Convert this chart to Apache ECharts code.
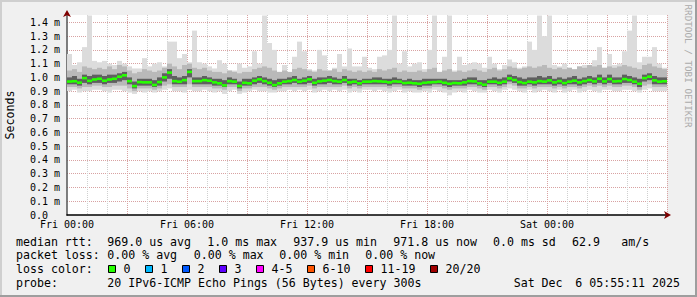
<!DOCTYPE html>
<html><head><meta charset="utf-8">
<script src="https://cdn.jsdelivr.net/npm/echarts@6/dist/echarts.min.js"></script>
<style>html,body{margin:0;padding:0;background:#f0f0f0}#c{width:697px;height:297px}</style>
</head><body><div id="c"></div>
<script>
// ---- time axis (hours since Fri 00:00), one value every 15 minutes ----
const STEP_HOURS = 0.25;
const xTickHours = [0, 6, 12, 18, 24];
const xTickLabels = ['Fri 00:00', 'Fri 06:00', 'Fri 12:00', 'Fri 18:00', 'Sat 00:00'];
const yTickLabels = ['0.0', '0.1 m', '0.2 m', '0.3 m', '0.4 m', '0.5 m', '0.6 m', '0.7 m',
                     '0.8 m', '0.9 m', '1.0 m', '1.1 m', '1.2 m', '1.3 m', '1.4 m'];

// ---- RTT in milliseconds ----
const median = [
 0.970,0.972,0.962,0.995,0.975,0.985,0.990,0.976,0.985,0.990,
 1.005,1.015,0.973,0.937,0.966,0.964,0.964,0.945,0.966,1.000,
 1.035,0.973,0.969,0.980,1.040,0.973,0.973,0.980,0.976,0.964,
 0.957,0.942,0.973,0.969,0.938,0.961,0.957,0.976,0.986,0.973,
 0.961,0.944,0.957,0.969,0.973,0.981,0.969,0.976,0.986,0.961,
 0.971,0.976,0.981,0.973,0.969,0.981,0.964,0.969,0.957,0.969,
 0.969,0.973,0.971,0.969,0.964,0.971,0.969,0.959,0.961,0.957,
 0.954,0.961,0.964,0.966,0.969,0.961,0.954,0.959,0.957,0.964,
 0.973,0.971,0.957,0.947,0.969,0.969,0.961,0.969,0.993,0.981,
 0.966,0.959,0.969,0.964,0.973,0.969,0.978,0.964,0.973,0.959,
 0.969,0.976,0.964,0.973,0.981,0.971,0.990,0.971,0.988,0.971,
 0.973,0.988,0.981,0.969,0.954,0.995,1.005,0.978,0.969,0.972];
const pMax = [
 1.17,1.09,1.11,1.22,1.45,1.12,1.11,1.12,1.10,1.09,
 1.12,1.10,1.08,1.065,1.065,1.14,1.08,1.10,1.11,1.08,
 1.26,1.26,1.14,1.17,1.11,1.34,1.11,1.10,1.08,1.065,
 1.125,1.10,1.05,1.05,1.10,1.07,1.08,1.19,1.10,1.45,
 1.25,1.20,1.04,1.09,1.03,1.15,1.26,1.19,1.06,1.05,
 1.20,1.16,1.05,1.07,1.17,1.08,1.21,1.08,1.08,1.15,
 1.07,1.06,1.15,1.16,1.20,1.45,1.10,1.19,1.08,1.10,
 1.11,1.06,1.20,1.45,1.04,1.15,1.45,1.05,1.15,1.09,
 1.10,1.11,1.10,1.07,1.15,1.10,1.06,1.09,1.13,1.11,
 1.07,1.08,1.26,1.20,1.45,1.30,1.45,1.09,1.08,1.10,
 1.07,1.04,1.08,1.09,1.06,1.125,1.22,1.07,1.17,1.09,
 1.10,1.19,1.34,1.45,1.11,1.15,1.15,1.22,1.10,1.07];
const pHigh = [
 1.05,1.06,1.04,1.08,1.07,1.06,1.07,1.06,1.08,1.06,
 1.09,1.08,1.05,1.03,1.04,1.06,1.05,1.04,1.05,1.07,
 1.10,1.08,1.06,1.09,1.10,1.07,1.06,1.07,1.05,1.04,
 1.04,1.03,1.05,1.04,1.03,1.04,1.04,1.06,1.07,1.08,
 1.07,1.05,1.04,1.05,1.04,1.06,1.07,1.06,1.05,1.04,
 1.06,1.05,1.05,1.06,1.04,1.06,1.05,1.04,1.05,1.04,
 1.05,1.04,1.06,1.05,1.06,1.07,1.04,1.05,1.04,1.04,
 1.05,1.04,1.06,1.07,1.04,1.05,1.06,1.04,1.05,1.04,
 1.05,1.06,1.05,1.04,1.06,1.07,1.05,1.06,1.08,1.07,
 1.06,1.07,1.08,1.07,1.08,1.09,1.07,1.06,1.07,1.06,
 1.07,1.06,1.08,1.07,1.09,1.08,1.09,1.07,1.08,1.07,
 1.08,1.09,1.08,1.07,1.06,1.09,1.10,1.08,1.07,1.06];
const pInHigh = [
 1.00,1.01,0.99,1.02,1.01,1.02,1.02,1.01,1.02,1.02,
 1.03,1.04,1.00,0.97,0.99,0.99,0.99,0.98,1.00,1.03,
 1.06,1.01,1.00,1.01,1.06,1.00,1.00,1.01,1.00,0.99,
 0.99,0.98,1.00,0.99,0.97,0.99,0.99,1.00,1.01,1.00,
 0.99,0.98,0.99,0.99,1.00,1.01,0.99,1.00,1.01,0.99,
 1.00,1.00,1.01,1.00,0.99,1.01,0.99,0.99,0.98,0.99,
 0.99,1.00,1.00,0.99,0.99,1.00,0.99,0.98,0.99,0.98,
 0.98,0.99,0.99,0.99,0.99,0.99,0.98,0.98,0.98,0.99,
 1.00,1.00,0.98,0.98,0.99,1.00,0.99,1.00,1.02,1.01,
 1.00,0.99,1.00,1.00,1.01,1.00,1.01,0.99,1.00,0.99,
 1.00,1.01,0.99,1.00,1.01,1.00,1.02,1.00,1.02,1.00,
 1.00,1.02,1.01,1.00,0.99,1.02,1.03,1.01,1.00,1.00];
const pInLow = [
 0.95,0.95,0.94,0.96,0.95,0.96,0.96,0.95,0.96,0.96,
 0.97,0.98,0.95,0.92,0.94,0.94,0.94,0.93,0.94,0.97,
 0.99,0.95,0.95,0.95,1.00,0.95,0.95,0.95,0.95,0.94,
 0.94,0.93,0.95,0.95,0.92,0.94,0.94,0.95,0.96,0.95,
 0.94,0.93,0.94,0.95,0.95,0.96,0.95,0.95,0.96,0.94,
 0.95,0.95,0.96,0.95,0.95,0.96,0.94,0.95,0.94,0.95,
 0.95,0.95,0.95,0.95,0.94,0.95,0.95,0.94,0.94,0.94,
 0.93,0.94,0.94,0.95,0.95,0.94,0.93,0.94,0.94,0.94,
 0.95,0.95,0.94,0.93,0.95,0.95,0.94,0.95,0.97,0.96,
 0.94,0.94,0.95,0.94,0.95,0.95,0.95,0.94,0.95,0.94,
 0.95,0.95,0.94,0.95,0.96,0.95,0.96,0.95,0.96,0.95,
 0.95,0.96,0.96,0.95,0.93,0.97,0.98,0.95,0.95,0.95];
const pLow = [
 0.93,0.93,0.92,0.93,0.93,0.94,0.94,0.93,0.93,0.94,
 0.94,0.94,0.92,0.90,0.92,0.92,0.92,0.91,0.92,0.94,
 0.95,0.93,0.93,0.93,0.95,0.93,0.93,0.93,0.93,0.92,
 0.92,0.91,0.93,0.93,0.90,0.92,0.92,0.93,0.93,0.93,
 0.92,0.91,0.92,0.93,0.93,0.93,0.93,0.93,0.94,0.92,
 0.93,0.93,0.93,0.93,0.93,0.94,0.92,0.93,0.92,0.93,
 0.93,0.93,0.93,0.93,0.92,0.93,0.93,0.92,0.92,0.92,
 0.91,0.92,0.92,0.93,0.93,0.92,0.91,0.92,0.92,0.92,
 0.93,0.93,0.92,0.91,0.93,0.93,0.92,0.93,0.95,0.94,
 0.92,0.92,0.93,0.92,0.93,0.93,0.93,0.92,0.93,0.92,
 0.93,0.93,0.92,0.93,0.94,0.93,0.94,0.93,0.94,0.93,
 0.93,0.94,0.94,0.93,0.91,0.94,0.95,0.93,0.93,0.93];
const pMin = [
 0.90,0.91,0.89,0.90,0.90,0.91,0.91,0.90,0.89,0.91,
 0.91,0.90,0.89,0.88,0.90,0.89,0.90,0.89,0.90,0.91,
 0.92,0.90,0.90,0.89,0.91,0.90,0.90,0.91,0.90,0.89,
 0.90,0.88,0.90,0.91,0.88,0.89,0.90,0.91,0.90,0.90,
 0.89,0.89,0.90,0.90,0.91,0.90,0.91,0.90,0.91,0.89,
 0.90,0.91,0.90,0.91,0.90,0.91,0.89,0.90,0.89,0.91,
 0.91,0.90,0.91,0.90,0.89,0.90,0.91,0.89,0.90,0.89,
 0.89,0.90,0.89,0.91,0.90,0.89,0.87,0.89,0.90,0.89,
 0.91,0.90,0.89,0.89,0.91,0.90,0.89,0.91,0.92,0.91,
 0.90,0.89,0.91,0.89,0.90,0.91,0.90,0.89,0.91,0.89,
 0.90,0.91,0.89,0.90,0.91,0.90,0.89,0.91,0.91,0.90,
 0.90,0.91,0.91,0.90,0.89,0.91,0.92,0.90,0.90,0.90];

// ---- legend ----
const lossLabels = ['0', '1', '2', '3', '4-5', '6-10', '11-19', '20/20'];
const lossColors = ['#26ff00', '#00b8ff', '#0059ff', '#5e00ff', '#ff00ff', '#ff5500', '#ff0000', '#a00000'];
const rttStats = ['969.0 us avg', '1.0 ms max', '937.9 us min', '971.8 us now', '0.0 ms sd', '62.9', 'am/s'];
const lossStats = ['0.00 % avg', '0.00 % max', '0.00 % min', '0.00 % now'];
const probeText = '20 IPv6-ICMP Echo Pings (56 Bytes) every 300s';
const dateText = ['Sat Dec', '6 05:55:11 2025'];

const MONO = '"DejaVu Sans Mono", monospace';
const LFONT = '11.6px ' + MONO;

const data = median.map((m, i) => [i * STEP_HOURS, pMin[i], pLow[i], pInLow[i], m, pInHigh[i], pHigh[i], pMax[i]]);

function renderItem(params, api) {
  const h = api.value(0);
  const w = api.size([STEP_HOURS, 0])[0];
  const x = api.coord([h, 0])[0];
  function band(lo, hi, color) {
    const a = api.coord([h, api.value(lo)])[1];
    const b = api.coord([h, api.value(hi)])[1];
    return { type: 'rect', shape: { x: x, y: b, width: w, height: a - b }, style: { fill: color } };
  }
  const my = api.coord([h, api.value(4)])[1];
  return {
    type: 'group',
    children: [
      band(1, 7, '#dcdcdc'),
      band(2, 6, '#b9b9b9'),
      band(3, 5, '#5f5f5f'),
      { type: 'rect', shape: { x: x, y: my - 1.3, width: w, height: 2.6 }, style: { fill: lossColors[0] } }
    ]
  };
}

const graphics = [];
function txt(x, y, s, align) {
  graphics.push({ type: 'text', x: x, y: y, style: { text: s, font: LFONT, fill: '#000', align: align || 'left', verticalAlign: 'middle' } });
}
// frame
graphics.push({ type: 'rect', shape: { x: 0, y: 0, width: 697, height: 2 }, style: { fill: '#cfcfcf' } });
graphics.push({ type: 'rect', shape: { x: 0, y: 0, width: 2, height: 297 }, style: { fill: '#cfcfcf' } });
graphics.push({ type: 'rect', shape: { x: 695, y: 0, width: 2, height: 297 }, style: { fill: '#9e9e9e' } });
graphics.push({ type: 'rect', shape: { x: 0, y: 295, width: 697, height: 2 }, style: { fill: '#9e9e9e' } });
// watermark
graphics.push({ type: 'text', x: 688, y: 66, rotation: -Math.PI / 2,
  style: { text: 'RRDTOOL / TOBI OETIKER', font: '9.3px ' + MONO, fill: '#ababab', align: 'center', verticalAlign: 'middle' } });
// row 1
const rttX = [107.3, 207.3, 293.3, 393.3, 493.0, 572.0, 621.3];
txt(16, 241.7, 'median rtt:');
rttStats.forEach((s, i) => txt(rttX[i], 241.7, s));
// row 2
const lossX = [107.3, 193.8, 279.3, 365.3];
txt(16, 255.3, 'packet loss:');
lossStats.forEach((s, i) => txt(lossX[i], 255.3, s));
// row 3
const boxX = [108.5, 145.5, 182.5, 219.5, 256.5, 307.5, 365.5, 430.5];
txt(16, 269.3, 'loss color:');
lossLabels.forEach((s, i) => {
  graphics.push({ type: 'rect', shape: { x: boxX[i], y: 265.5, width: 7, height: 7 }, style: { fill: lossColors[i], stroke: '#000', lineWidth: 1 } });
  txt(boxX[i] + 15, 269.3, s);
});
// row 4
txt(16, 283.3, 'probe:');
txt(107.3, 283.3, probeText);
txt(513.7, 283.3, dateText[0]);
txt(680, 283.3, dateText[1], 'right');

const chart = echarts.init(document.getElementById('c'), null, { renderer: 'svg' });
chart.setOption({
  animation: false,
  backgroundColor: '#f0f0f0',
  grid: { left: 67, top: 15, width: 600, height: 200, show: true, backgroundColor: '#ffffff', borderWidth: 0,
          containLabel: false, outerBoundsMode: 'none' },
  xAxis: [{
    type: 'value', min: 0, max: 30, interval: 3,
    axisLine: { show: true, onZero: false, lineStyle: { color: '#000', width: 1.5 } },
    axisTick: { show: false },
    axisLabel: {
      margin: 4, fontSize: 10, fontFamily: MONO, color: '#000', showMaxLabel: false,
      formatter: v => { const i = xTickHours.indexOf(v); return i >= 0 ? xTickLabels[i] : ''; }
    },
    splitLine: { show: true, showMinLine: false, lineStyle: { color: '#d8a2a2', width: 1, type: [1, 1] } },
    minorTick: { show: false, splitNumber: 3 },
    minorSplitLine: { show: true, lineStyle: { color: '#cfcfcf', width: 1, type: [1, 1] } }
  }, {
    type: 'value', min: 0, max: 30, position: 'bottom',
    axisLine: { show: true, onZero: false, symbol: ['none', 'arrow'], symbolSize: [6, 7], symbolOffset: [0, 4],
                lineStyle: { color: '#7f0000', width: 0 } },
    axisTick: { show: false }, axisLabel: { show: false }, splitLine: { show: false }
  }],
  yAxis: [{
    type: 'value', min: 0, max: 1.4535, interval: 0.1,
    axisLine: { show: true, onZero: false, lineStyle: { color: '#555', width: 1.5 } },
    axisTick: { show: false },
    axisLabel: {
      margin: 7, fontSize: 10, fontFamily: MONO, color: '#000', showMaxLabel: false,
      formatter: v => { const i = Math.round(v * 10); if (Math.abs(v * 10 - i) > 1e-6) return ''; return i === 0 ? '{z|' + yTickLabels[0] + '}' : yTickLabels[i]; },
      rich: { z: { fontSize: 10, fontFamily: MONO, color: '#000', padding: [0, 12, 0, 0] } }
    },
    splitLine: { show: true, showMinLine: false, showMaxLine: false, lineStyle: { color: '#d8a2a2', width: 1, type: [1, 1] } },
    name: 'Seconds', nameLocation: 'middle', nameRotate: 90, nameGap: 51,
    nameTextStyle: { fontSize: 11.6, fontFamily: MONO, color: '#000' }
  }, {
    type: 'value', min: 0, max: 1.4535, position: 'left',
    axisLine: { show: true, onZero: false, symbol: ['none', 'arrow'], symbolSize: [6, 7], symbolOffset: [0, 5],
                lineStyle: { color: '#7f0000', width: 0 } },
    axisTick: { show: false }, axisLabel: { show: false }, splitLine: { show: false }
  }],
  series: [{
    type: 'custom', xAxisIndex: 0, yAxisIndex: 0, clip: true,
    renderItem: renderItem,
    encode: { x: 0, y: [1, 7] },
    data: data
  }],
  graphic: graphics
});
</script>
</body></html>
